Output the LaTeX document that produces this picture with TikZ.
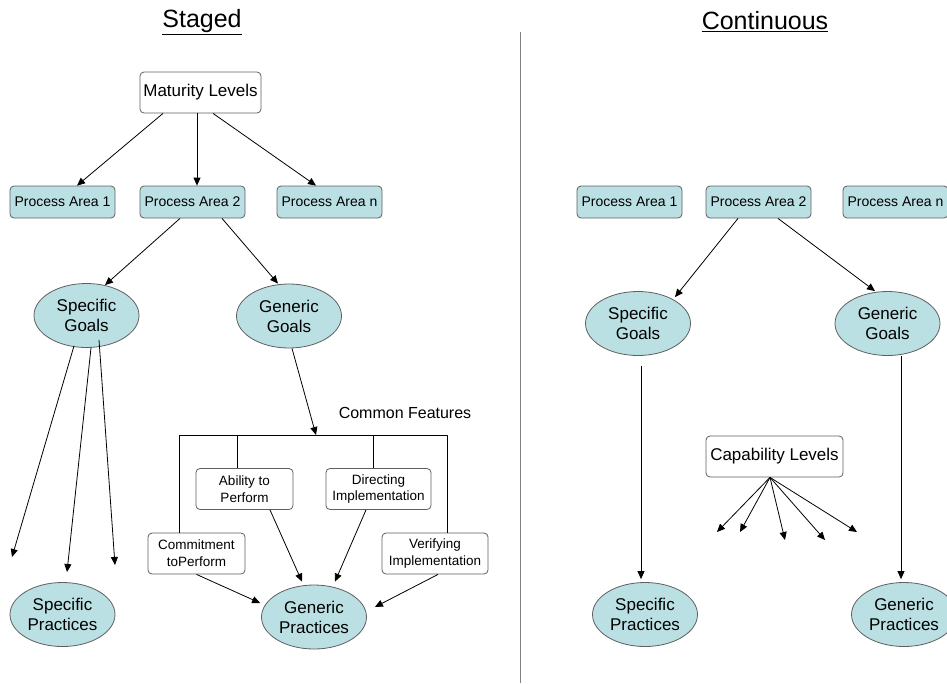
\documentclass[tikz,border=0pt]{standalone}
\usepackage{fontspec}
\setmainfont{Liberation Sans}
\usetikzlibrary{arrows.meta,shapes.geometric}
\definecolor{goalfill}{RGB}{187,224,227}
\definecolor{edgegray}{RGB}{95,95,95}
\begin{document}
\begin{tikzpicture}[x=1pt,y=-1pt,>={Triangle[length=8pt,width=7pt]},line join=round,line width=0.8pt,
  box/.style={draw=edgegray,rounded corners=4pt,inner sep=0pt,align=center},
  pabox/.style={box,fill=goalfill,minimum width=105pt,minimum height=32pt,font=\fontsize{14}{16}\selectfont},
  cfbox/.style={box,fill=white,minimum height=41pt,font=\fontsize{13.5}{17}\selectfont},
  lvbox/.style={box,fill=white,minimum height=41pt,font=\fontsize{17}{20}\selectfont},
  goal/.style={ellipse,draw=edgegray,fill=goalfill,minimum width=105pt,minimum height=64pt,inner sep=0pt,align=center,font=\fontsize{17}{20}\selectfont},
  title/.style={font=\fontsize{25}{30}\selectfont}]
\clip (0,0) rectangle (947,683);
\node[title] (stg) at (202,22) {\underline{Staged}};
\node[title] (cnt) at (765,22) {\underline{Continuous}};
\coordinate (divtop) at (520,32);
\coordinate (divbot) at (520,683);
\draw[gray,line width=1pt] (divtop) -- (divbot);
% staged
\node[lvbox,minimum width=121pt] (ml) at (200.5,92.5) {Maturity Levels};
\node[pabox] (pa1) at (62.5,202) {Process Area 1};
\node[pabox] (pa2) at (192.5,202) {Process Area 2};
\node[pabox] (pan) at (329.5,202) {Process Area n};
\node[goal] (sg) at (86.5,315.5) {Specific\\Goals};
\node[goal] (gg) at (289,316) {Generic\\Goals};
\node[goal] (sp) at (62.5,614.5) {Specific\\Practices};
\node[goal] (gp) at (314,617) {Generic\\Practices};
\node[cfbox,minimum width=97pt] (abl) at (244.5,489) {Ability to\\Perform};
\node[cfbox,minimum width=105pt] (dir) at (378.5,489) {Directing\\Implementation};
\node[cfbox,minimum width=97pt] (cmt) at (196.5,553.5) {Commitment\\toPerform};
\node[cfbox,minimum width=106pt] (ver) at (435,553.5) {Verifying\\Implementation};
\node[font=\fontsize{16}{19}\selectfont] (cf) at (405,413) {Common Features};
\draw[->] ([xshift=-37.5pt]ml.south) -- ([xshift=14.5pt]pa1.north);
\draw[->] ([xshift=-3.5pt]ml.south) -- ([xshift=4.5pt]pa2.north);
\draw[->] ([xshift=12.5pt]ml.south) -- ([xshift=-13.5pt]pan.north);
\draw[->] ([xshift=-12.5pt]pa2.south) -- ([xshift=18.5pt,yshift=-2pt]sg.north);
\draw[->] ([xshift=29.5pt]pa2.south) -- ([xshift=-11pt]gg.north);
\coordinate (sa) at (12,557);
\coordinate (sb) at (67,572);
\coordinate (sc) at (115,565);
\draw[->] ([xshift=-12.5pt,yshift=2pt]sg.south) -- (sa);
\draw[->] ([xshift=4.5pt]sg.south) -- (sb);
\draw[->] ([xshift=12.5pt,yshift=8pt]sg.south) -- (sc);
% common features
\coordinate (cfl) at (179,435);
\coordinate (cfm) at (316,435);
\coordinate (cfr) at (447,435);
\draw[->] ([xshift=3pt]gg.south) -- (cfm);
\draw ([xshift=-17.5pt]cmt.north) -- (cfl) -- (cfr) -- ([xshift=12pt]ver.north);
\draw ([xshift=-7.5pt]abl.north) -- ([xshift=-7.5pt]abl.north |- cfl);
\draw ([xshift=-5.5pt]dir.north) -- ([xshift=-5.5pt]dir.north |- cfl);
\draw[->] ([xshift=25.5pt]abl.south) -- ([xshift=-12pt,yshift=3pt]gp.north);
\draw[->] ([xshift=-12.5pt]dir.south) -- ([xshift=21pt,yshift=3pt]gp.north);
\draw[->] (cmt.south) -- ([xshift=-1pt,yshift=14pt]gp.west);
\draw[->] ([xshift=3pt]ver.south) -- ([xshift=8pt,yshift=10pt]gp.east);
% continuous
\node[pabox] (qa1) at (629.5,202) {Process Area 1};
\node[pabox] (qa2) at (758.5,202) {Process Area 2};
\node[pabox] (qan) at (895.5,202) {Process Area n};
\node[goal] (sgc) at (638,323.5) {Specific\\Goals};
\node[goal] (ggc) at (887.5,323.5) {Generic\\Goals};
\node[goal] (spc) at (645,614.5) {Specific\\Practices};
\node[goal] (gpc) at (904,614.5) {Generic\\Practices};
\node[lvbox,minimum width=137pt] (cap) at (774.5,456.5) {Capability Levels};
\draw[->] ([xshift=-20.5pt]qa2.south) -- ([xshift=37pt,yshift=-6pt]sgc.north);
\draw[->] ([xshift=19.5pt]qa2.south) -- ([xshift=-12.5pt]ggc.north);
\draw[->] ([xshift=3pt,yshift=-10pt]sgc.south) -- ([xshift=-4pt,yshift=3pt]spc.north);
\draw[->] ([xshift=13.5pt]ggc.south) -- ([xshift=-3pt,yshift=3pt]gpc.north);
\foreach \x/\y [count=\i] in {717/532,740/532,785/540,825/540,857/532}{
  \coordinate (cl\i) at (\x,\y);
  \draw[->] ([xshift=-4.5pt]cap.south) -- (cl\i);}
\end{tikzpicture}
\end{document}
